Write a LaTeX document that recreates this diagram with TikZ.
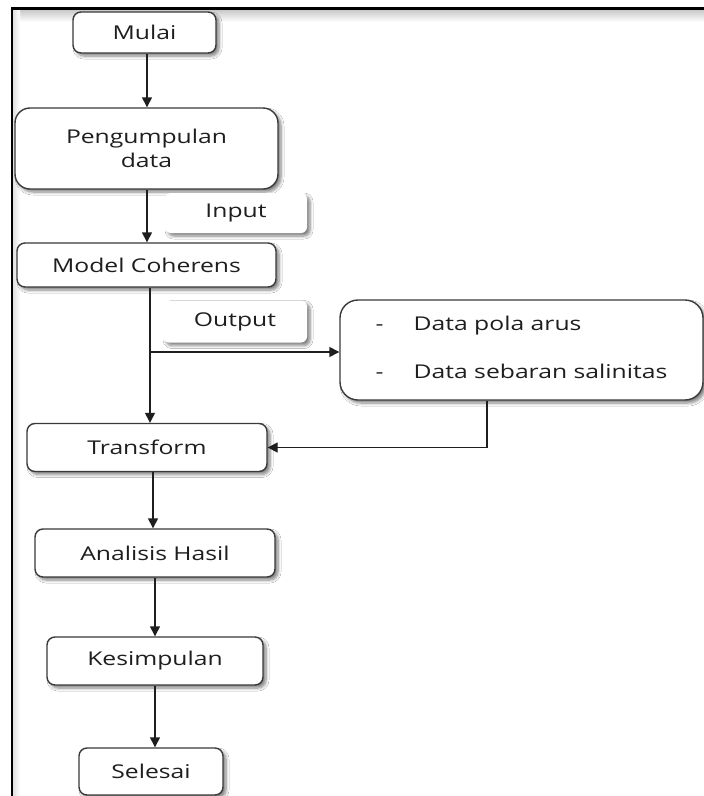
\documentclass[tikz,border=0pt]{standalone}
\usepackage{fontspec}
\setmainfont[FakeStretch=1.3]{Open Sans}
\usetikzlibrary{arrows.meta,shadows.blur}
\definecolor{edge}{HTML}{3A3A3A}
\definecolor{ink}{HTML}{1E1E1E}
\tikzset{
  box/.style={draw=edge, line width=1.4pt, fill=white, rounded corners=8pt,
    text=ink, font=\fontsize{19}{24}\selectfont, inner sep=0pt, align=center,
    blur shadow={shadow xshift=3pt, shadow yshift=-3pt, shadow blur radius=3pt,
      shadow blur steps=6, shadow opacity=50}},
  tag/.style={box, draw=none, rounded corners=6pt},
  arr/.style={line width=1.4pt, draw=ink, -{Triangle[length=10pt,width=10pt]}},
  ln/.style={line width=1.4pt, draw=ink}
}
\begin{document}
\begin{tikzpicture}[x=1pt,y=-1pt]
\useasboundingbox (0,0) rectangle (704,796);
\fill[white] (0,0) rectangle (704,796);
% frame
\shade[top color=black!22, bottom color=white] (13,9.5) rectangle (704,22);
\shade[left color=black!12, right color=white] (13,9.5) rectangle (20,796);
\draw[line width=2.6pt, draw=black] (12,796) -- (12,8.5) -- (704,8.5);
% nodes
\node[box, minimum width=143pt, minimum height=41pt] (mulai) at (144.5,32.5) {Mulai};
\node[box, rounded corners=15pt, minimum width=263pt, minimum height=81pt] (peng) at (146.5,148.5) {Pengumpulan\\data};
\node[tag, minimum width=142pt, minimum height=40pt] (input) at (236,213) {Input};
\node[box, minimum width=259pt, minimum height=44pt] (model) at (146.5,265) {Model Coherens};
\node[tag, minimum width=144pt, minimum height=42pt] (output) at (235,321.5) {Output};
\node[box, rounded corners=18pt, minimum width=363pt, minimum height=100pt] (data) at (521.5,350)
  {\begin{tabular}{@{}l@{\hspace{30pt}}l@{}}- & Data pola arus\\[24pt] - & Data sebaran salinitas\end{tabular}};
\node[box, minimum width=240pt, minimum height=48pt] (transform) at (147,447.5) {Transform};
\node[box, minimum width=240pt, minimum height=48pt] (analisis) at (155,553) {Analisis Hasil};
\node[box, minimum width=216pt, minimum height=48pt] (kesimpulan) at (155,661) {Kesimpulan};
\node[box, minimum width=144pt, minimum height=47pt] (selesai) at (151,771.5) {Selesai};
% connectors
\draw[arr] ([xshift=2.5pt]mulai.south) -- ([xshift=2.5pt]mulai.south |- peng.north);
\draw[arr] ([xshift=0.5pt]peng.south) -- ([xshift=0.5pt]peng.south |- model.north);
\draw[arr] ([xshift=3.5pt]model.south) -- ([xshift=3.5pt]model.south |- transform.north);
\coordinate (br) at (150,352);
\draw[arr] (br) -- (br -| data.west);
\draw[arr] ([xshift=-34.5pt]data.south) |- (transform.east);
\draw[arr] ([xshift=6pt]transform.south) -- ([xshift=6pt]transform.south |- analisis.north);
\draw[arr] (analisis.south) -- (analisis.south |- kesimpulan.north);
\draw[arr] (kesimpulan.south) -- (kesimpulan.south |- selesai.north);
\end{tikzpicture}
\end{document}
